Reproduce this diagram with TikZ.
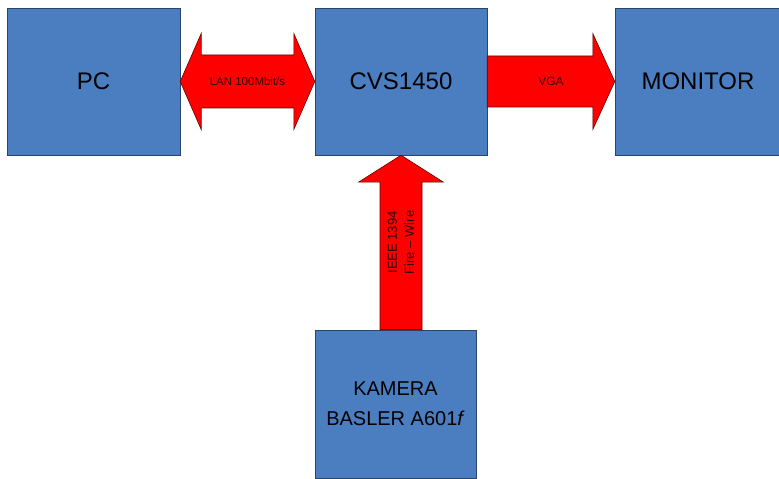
\documentclass[tikz,border=0pt]{standalone}
\usepackage{fontspec}
\setmainfont{Liberation Sans}
\usepackage{xcolor}
\usetikzlibrary{calc}
\definecolor{boxblue}{RGB}{74,126,192}
\definecolor{linkred}{RGB}{255,0,0}

\begin{document}
\begin{tikzpicture}[x = 1pt, y = 1pt,
  block/.style = {draw = boxblue!55!black, fill = boxblue, minimum height = 147pt,
                  inner sep = 0pt, font = \fontsize{24}{28}\selectfont, text = black},
  pipe/.style = {draw = red!40!black, fill = linkred, line width = 0.6pt},
  tag/.style = {font = \fontsize{12}{14}\selectfont, text = red!20!black}
  ]
  \useasboundingbox (0,0) rectangle (779,479);
  \node[block, minimum width = 173pt] (pc) at (93.5,397.5) {PC};
  \node[block, minimum width = 172pt] (cvs) at (401,397.5) {CVS1450};
  \node[block, minimum width = 166pt] (mon) at (698,397.5) {MONITOR};
  \node[block, minimum width = 161pt, minimum height = 148pt, align = center,
        font = \fontsize{20}{30}\selectfont] (cam) at (395.5,75) {KAMERA\\BASLER A601\textit{f}};
  \coordinate (foot) at (cvs.south |- cam.north);
  \draw[pipe] (pc.east) -- ++(21,48) -- ++(0,-21.5) -- ($(cvs.west)+(-21,26.5)$) -- ++(0,21.5)
    -- (cvs.west) -- ++(-21,-48) -- ++(0,21.5) -- ($(pc.east)+(21,-26.5)$) -- ++(0,-21.5) -- cycle;
  \draw[pipe] ($(cvs.east)+(0,25.5)$) -- ($(mon.west)+(-22,25.5)$) -- ++(0,22.5) -- (mon.west)
    -- ++(-22,-48) -- ++(0,22.5) -- ($(cvs.east)+(0,-25.5)$) -- cycle;
  \draw[pipe] (cvs.south) -- ++(42.5,-27) -- ++(-21.5,0) -- ($(foot)+(21,0)$) -- ($(foot)+(-21,0)$)
    -- ($(cvs.south)+(-21,-27)$) -- ++(-21.5,0) -- cycle;
  \node[tag, font = \fontsize{11.5}{13}\selectfont] (lan) at ($(pc.east)!0.5!(cvs.west)$) {LAN 100Mbit/s};
  \node[tag] (vga) at ($(cvs.east)!0.5!(mon.west)$) {VGA};
  \node[tag, rotate = 90, align = center, font = \fontsize{13}{17}\selectfont] (fw)
    at ($(foot)!0.5!(cvs.south)$) {IEEE 1394\\F{}ire -- Wire};
\end{tikzpicture}
\end{document}
